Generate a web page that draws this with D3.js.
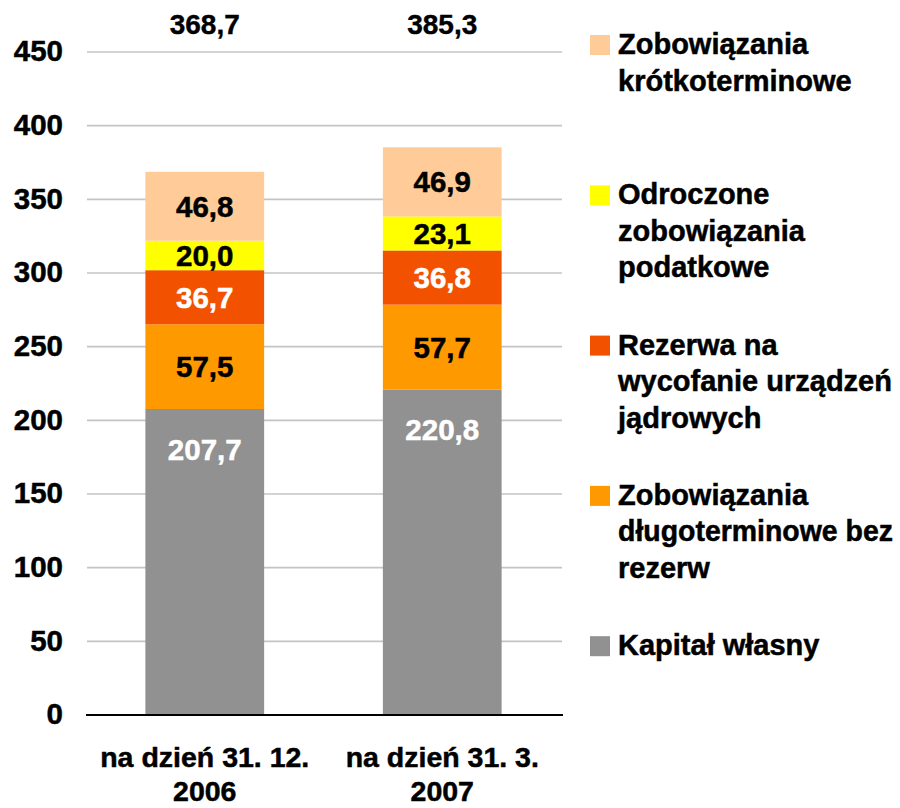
<!DOCTYPE html>
<html>
<head>
<meta charset="utf-8">
<script src="https://cdn.jsdelivr.net/npm/d3@7.9.0/dist/d3.min.js"></script>
<style>
  body { margin: 0; background: #fff; }
  svg text { font-family: "Liberation Sans", Arial, sans-serif; font-weight: bold; }
</style>
</head>
<body>
<svg id="vis"></svg>
<script>
const width = 900;
const height = 808;

// --- data ---
const categories = ["na dzień 31. 12.|2006", "na dzień 31. 3.|2007"];
const seriesNames = [
    "Kapitał własny",
    "Zobowiązania długoterminowe bez rezerw",
    "Rezerwa na wycofanie urządzeń jądrowych",
    "Odroczone zobowiązania podatkowe",
    "Zobowiązania krótkoterminowe"
];
const kapital = [207.7, 220.8];
const dlugoterminowe = [57.5, 57.7];
const rezerwa = [36.7, 36.8];
const odroczone = [20.0, 23.1];
const krotkoterminowe = [46.8, 46.9];
const totals = [368.7, 385.3];
const yTicks = [0, 50, 100, 150, 200, 250, 300, 350, 400, 450];

// legend, top to bottom, wrapped as in the original
const legendLines = [
    ["Zobowiązania", "krótkoterminowe"],
    ["Odroczone", "zobowiązania", "podatkowe"],
    ["Rezerwa na", "wycofanie urządzeń", "jądrowych"],
    ["Zobowiązania", "długoterminowe bez", "rezerw"],
    ["Kapitał własny"]
];

const colors = ["#919191", "#FF9900", "#F25100", "#FFFF00", "#FFCC99"];
const labelColors = ["#fff", "#000", "#fff", "#000", "#000"];

const series = [kapital, dlugoterminowe, rezerwa, odroczone, krotkoterminowe];

const fmt = v => d3.format(".1f")(v).replace(".", ",");

const svg = d3.select("#vis")
    .attr("width", width)
    .attr("height", height);

const x = d3.scaleBand()
    .domain(categories)
    .range([86, 561])
    .paddingInner(0.5)
    .paddingOuter(0.25);

const y = d3.scaleLinear()
    .domain([0, 450])
    .range([715, 52]);

// gridlines
svg.append("g")
    .selectAll("line")
    .data(yTicks.filter(t => t > 0))
    .join("line")
    .attr("x1", 87)
    .attr("x2", 562)
    .attr("y1", d => y(d))
    .attr("y2", d => y(d))
    .attr("stroke", "#C4C4C4")
    .attr("stroke-width", 1.6);

// y axis labels
const yAxis = svg.append("g")
    .attr("transform", "translate(63,0)")
    .call(d3.axisLeft(y).tickValues(yTicks).tickSize(0).tickPadding(0));
yAxis.select(".domain").remove();
yAxis.selectAll("text")
    .attr("font-family", "Liberation Sans, Arial, sans-serif")
    .attr("font-size", 29.5)
    .attr("font-weight", "bold")
    .attr("fill", "#000")
    .attr("stroke", "#000")
    .attr("stroke-width", 0.5)
    .attr("dy", "0.3em");

// stacked bars
const stacked = [];
categories.forEach((c, i) => {
    let base = 0;
    series.forEach((s, j) => {
        stacked.push({ cat: c, idx: j, y0: base, y1: base + s[i], value: s[i] });
        base += s[i];
    });
});

svg.append("g")
    .selectAll("rect")
    .data(stacked)
    .join("rect")
    .attr("x", d => x(d.cat))
    .attr("width", x.bandwidth())
    .attr("y", d => y(d.y1))
    .attr("height", d => y(d.y0) - y(d.y1))
    .attr("fill", d => colors[d.idx]);

// segment labels
svg.append("g")
    .selectAll("text")
    .data(stacked)
    .join("text")
    .attr("x", d => x(d.cat) + x.bandwidth() / 2)
    .attr("y", d => d.idx === 0 ? y(d.y1) + 40 : (y(d.y0) + y(d.y1)) / 2)
    .attr("dy", "0.36em")
    .attr("text-anchor", "middle")
    .attr("font-size", 29.5)
    .attr("fill", d => labelColors[d.idx])
    .attr("stroke", d => labelColors[d.idx])
    .attr("stroke-width", 0.5)
    .text(d => fmt(d.value));

// axis line
svg.append("line")
    .attr("x1", 86)
    .attr("x2", 563)
    .attr("y1", y(0))
    .attr("y2", y(0))
    .attr("stroke", "#000")
    .attr("stroke-width", 2.2);

// totals on top
svg.append("g")
    .selectAll("text")
    .data(categories)
    .join("text")
    .attr("x", d => x(d) + x.bandwidth() / 2)
    .attr("y", 34)
    .attr("text-anchor", "middle")
    .attr("font-size", 28)
    .attr("fill", "#000")
    .attr("stroke", "#000")
    .attr("stroke-width", 0.4)
    .text((d, i) => fmt(totals[i]));

// category labels (two lines)
svg.append("g")
    .selectAll("text")
    .data(categories)
    .join("text")
    .attr("x", d => x(d) + x.bandwidth() / 2)
    .attr("text-anchor", "middle")
    .attr("font-size", 28.5)
    .attr("fill", "#000")
    .attr("stroke", "#000")
    .attr("stroke-width", 0.5)
    .each(function (d) {
        const parts = d.split("|");
        d3.select(this).selectAll("tspan")
            .data(parts)
            .join("tspan")
            .attr("x", x(d) + x.bandwidth() / 2)
            .attr("y", (p, k) => 767 + k * 34)
            .text(p => p);
    });

// legend
const legendColors = colors.slice().reverse();
const legend = svg.append("g")
    .selectAll("g")
    .data(legendLines)
    .join("g")
    .attr("transform", (d, i) => `translate(590, ${54 + i * 150.3})`);

legend.append("rect")
    .attr("x", 0)
    .attr("y", -19)
    .attr("width", 20)
    .attr("height", 20)
    .attr("fill", (d, i) => legendColors[i]);

legend.append("text")
    .attr("font-size", 29)
    .attr("fill", "#000")
    .attr("stroke", "#000")
    .attr("stroke-width", 0.5)
    .selectAll("tspan")
    .data(d => d)
    .join("tspan")
    .attr("x", 28)
    .attr("y", (d, k) => k * 36.5)
    .text(d => d)
    .each(function () {
        // squeeze lines that would run past the right edge
        const maxW = 275;
        if (this.getComputedTextLength() > maxW) {
            d3.select(this)
                .attr("textLength", maxW)
                .attr("lengthAdjust", "spacingAndGlyphs");
        }
    });
</script>
</body>
</html>
